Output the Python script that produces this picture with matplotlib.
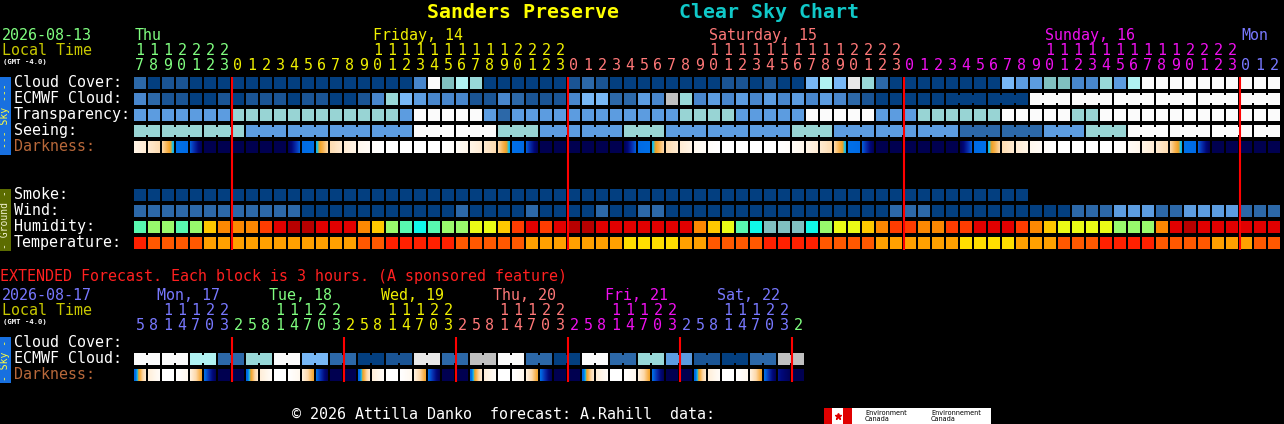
import numpy as np
import matplotlib
matplotlib.use("Agg")
import matplotlib.pyplot as plt
from matplotlib.colors import LinearSegmentedColormap

W, H = 1284, 424
MONO = "DejaVu Sans Mono"

# ---------------- data ----------------
title_site = "Sanders Preserve"
title_chart = "Clear Sky Chart"
main_date = "2026-08-13"
ext_date = "2026-08-17"
gmt_label = "(GMT -4.0)"

main_start_hour = 17
main_hours = [(main_start_hour + i) % 24 for i in range(82)]
main_days = ["Thu", "Friday, 14", "Saturday, 15", "Sunday, 16", "Mon"]
main_day_label_hour = [17, 10, 10, 10, 0]
main_day_colors = ["#80ff80", "#f0f000", "#ff7878", "#f010f0", "#7878ff"]

# cloud cover in percent (main chart, hourly)
cloud_cover = [20, 0, 10, 10, 0, 0, 0,
               0, 0, 0, 0, 0, 0, 0, 0, 0, 0, 0, 0, 0, 30, 100, 60, 80, 70,
               0, 0, 0, 0, 0, 0, 10, 20, 10, 0, 0, 0, 0, 0, 0, 0, 0, 10, 10,
               0, 10, 0, 0, 50, 80, 50, 95, 70, 20, 0, 0, 0, 0, 0, 0, 0, 0,
               50, 40, 40, 60, 60, 30, 30, 70, 40, 80,
               100, 100, 100, 100, 100, 100, 100, 100, 100, 100]
ecmwf_cloud = [30, 20, 10, 10, 0, 0, 10, 0, 10, 10, 10, 0, 10, 10, 0, 0, 10,
               30, 70, 50, 40,
               30, 30, 30, 10, 10, 30, 20, 10, 10, 10, 30, 50, 50, 20, 20, 40,
               30, 90, 70, 30, 40, 30, 40, 30, 40, 30, 40, 30, 40, 30,
               20, 10, 0, 0, 0, 0, 0, 0, 0, 0, 0, 0, 0,
               100, 100, 100, 100, 100, 100, 100, 100, 100, 100, 100, 100,
               100, 100, 100, 100, 100, 100]
ecmwf_3h_from = 58  # ECMWF becomes 3-hourly here

# transparency: 1 above avg, 2 average, 3 below avg, 5 too cloudy
transparency = [2, 2, 2, 2, 2, 2, 2,
                3, 3, 3, 3, 3, 3, 3, 3, 3, 3, 3, 3, 2, 5, 5, 5, 5, 5,
                2, 1, 2, 2, 2, 2, 2, 2, 2, 2, 2, 2, 2, 2, 3, 3, 3, 3,
                2, 2, 2, 2, 2, 5, 5, 5, 5, 5, 2, 2, 2, 3, 3, 3, 3, 3, 3,
                5, 5, 5, 5, 5, 3, 3, 5, 5, 5, 5, 5, 5, 5, 5, 5, 5, 5, 5, 5]
# seeing: 4 good, 3 average, 2 poor, 0 too cloudy
seeing = [2, 2, 2, 2, 2, 2, 2, 2,
          3, 3, 3, 3, 3, 3, 3, 3, 3, 3, 3, 3, 0, 0, 0, 0, 0, 0,
          2, 2, 2, 3, 3, 3, 3, 3, 3, 2, 2, 2, 3, 3, 3, 3, 3, 3, 3, 3, 3,
          2, 2, 2, 3, 3, 3, 3, 3, 3, 3, 3, 3, 4, 4, 4, 4, 4, 4,
          3, 3, 3, 2, 2, 2, 0, 0, 0, 0, 0, 0, 0, 0, 0, 0, 0]
smoke = [0] * 64
# wind: 0 = 0-5 mph, 1 = 6-11 mph, 2 = 12-16 mph
wind = [1, 1, 1, 1, 1, 1, 1, 1, 1, 1, 1, 1,
        0, 0, 0, 0, 0, 0, 0, 0, 0, 0, 0, 1, 0, 0, 0, 0, 1, 0, 0, 0, 0, 1,
        0, 0, 1, 1, 0, 0, 0, 0, 0, 0, 0, 0, 0, 0, 0, 0, 0, 0, 0, 0,
        1, 1, 1, 0, 0, 0, 0, 0, 0, 0, 0, 0, 0, 1, 1, 1, 2, 2, 2, 1, 1,
        2, 2, 2, 2, 1, 1, 1]
humidity = [55, 60, 60, 55, 60, 70, 75, 75, 75, 80, 85, 90, 90, 85, 85, 85,
            75, 70, 60, 55, 50,
            55, 60, 60, 65, 65, 70, 80, 85, 80, 85, 90, 90, 85, 85, 85, 85,
            85, 85, 85, 75, 70, 65, 55, 50, 45, 45, 45, 50, 60, 65,
            65, 70, 75, 80, 80, 75, 75, 80, 80, 85, 85, 85, 80, 75, 70, 65,
            65, 65, 65, 60, 60, 60, 75, 85, 90, 85, 85, 85, 85, 85, 85]
temperature = [86, 82, 82, 82, 82, 77, 77, 77, 77, 77, 77, 77, 77, 77, 77, 77,
               82, 82, 86, 86, 86,
               86, 86, 82, 82, 82, 82, 82, 77, 77, 77, 77, 77, 77, 77,
               73, 73, 73, 73, 77, 77, 82, 82, 82, 82, 86, 86, 86, 86, 82, 82,
               82, 82, 77, 77, 77, 77, 77, 77, 73, 73, 73, 73, 77, 77, 77,
               82, 82, 82, 86, 86, 86, 86, 82, 82, 82, 82, 77, 77, 77, 82, 82]
# darkness (0 daylight .. 1 full dark) at start and end of each hour block
dark_start = [0.08, 0.14, 0.24, 0.50, 0.58, 1, 1,
              1, 1, 1, 1, 0.97, 0.53, 0.46, 0.22, 0.13, 0.06, 0.02, 0, 0, 0, 0,
              0, 0.03, 0.08, 0.14, 0.24, 0.50, 0.58, 1, 1,
              1, 1, 1, 1, 0.97, 0.53, 0.46, 0.22, 0.13, 0.06, 0.02, 0, 0, 0, 0,
              0, 0.03, 0.08, 0.14, 0.24, 0.50, 0.58, 1, 1,
              1, 1, 1, 1, 0.97, 0.53, 0.46, 0.22, 0.13, 0.06, 0.02, 0, 0, 0, 0,
              0, 0.03, 0.08, 0.14, 0.24, 0.50, 0.58, 1, 1,
              1, 1, 1]
dark_end = [0.13, 0.22, 0.46, 0.53, 0.97, 1, 1,
            1, 1, 1, 1, 0.58, 0.50, 0.24, 0.14, 0.08, 0.03, 0, 0, 0, 0, 0,
            0.02, 0.07, 0.13, 0.22, 0.46, 0.53, 0.97, 1, 1,
            1, 1, 1, 1, 0.58, 0.50, 0.24, 0.14, 0.08, 0.03, 0, 0, 0, 0, 0,
            0.02, 0.07, 0.13, 0.22, 0.46, 0.53, 0.97, 1, 1,
            1, 1, 1, 1, 0.58, 0.50, 0.24, 0.14, 0.08, 0.03, 0, 0, 0, 0, 0,
            0.02, 0.07, 0.13, 0.22, 0.46, 0.53, 0.97, 1, 1,
            1, 1, 1]

# extended forecast (3-hour columns)
ext_start_hour = 5
ext_hours = [(ext_start_hour + 3 * i) % 24 for i in range(48)]
ext_days = ["Mon, 17", "Tue, 18", "Wed, 19", "Thu, 20", "Fri, 21", "Sat, 22"]
ext_day_colors = ["#7878ff", "#80ff80", "#f0f000", "#ff7878", "#f010f0",
                  "#7878ff", "#80ff80"]
ext_ecmwf = [100, 100, 80, 20, 70, 100, 50, 20, 0, 10, 95, 20,
             90, 100, 20, 0, 100, 20, 70, 40, 10, 0, 20, 90]
ext_dark_start = [0.56, 0.12, 0, 0, 0.10, 0.52, 1,
                  1, 0.56, 0.12, 0, 0, 0.10, 0.52, 1,
                  1, 0.56, 0.12, 0, 0, 0.10, 0.52, 1,
                  1, 0.56, 0.12, 0, 0, 0.10, 0.52, 1,
                  1, 0.56, 0.12, 0, 0, 0.10, 0.52, 1,
                  1, 0.56, 0.12, 0, 0, 0.10, 0.52, 0.80,
                  1]
ext_dark_end = [0.14, 0.03, 0, 0.06, 0.38, 0.97, 1,
                1, 0.14, 0.03, 0, 0.06, 0.38, 0.97, 1,
                1, 0.14, 0.03, 0, 0.06, 0.38, 0.97, 1,
                1, 0.14, 0.03, 0, 0.06, 0.38, 0.97, 1,
                1, 0.14, 0.03, 0, 0.06, 0.38, 0.97, 1,
                1, 0.14, 0.03, 0, 0.06, 0.38, 0.97, 0.97,
                1]

# ---------------- colours ----------------
CLOUD_COL = {0: "#033f80", 10: "#1a5494", 20: "#2c68a8", 30: "#4886cc",
             40: "#5c9ce0", 50: "#78b8f6", 60: "#80c0c0", 70: "#98d8d8",
             80: "#b0f2f2", 90: "#c0c0c0", 95: "#e8e8e8", 100: "#fbfbfb"}
TRANSP_COL = {1: "#2c68a8", 2: "#5c9ce0", 3: "#98d4d4", 5: "#fbfbfb"}
SEEING_COL = {4: "#2c68a8", 3: "#5c9ce0", 2: "#98d4d4", 0: "#fbfbfb"}
WIND_COL = {0: "#033f80", 1: "#2c68a8", 2: "#5c9ce0"}
HUM_COL = {45: "#80c0c0", 50: "#10f8e8", 55: "#58f8b0", 60: "#98fa6c",
           65: "#eafb16", 70: "#fec800", 75: "#fc8802", 80: "#fe3c01",
           85: "#e20000", 90: "#b80000"}
TEMP_COL = {73: "#ffde00", 77: "#ffa000", 82: "#ff5800", 86: "#ff2000"}
dark_cmap = LinearSegmentedColormap.from_list("dark", [
    (0.00, "#ffffff"), (0.06, "#fff8ee"), (0.14, "#ffead0"),
    (0.24, "#fdd8a8"), (0.34, "#f8b048"), (0.40, "#f0a020"),
    (0.44, "#10c8f0"), (0.50, "#0070e8"), (0.56, "#0066e0"),
    (0.70, "#0830b0"), (0.85, "#00087a"), (1.00, "#000050")])

# ---------------- layout ----------------
X0, PITCH, BW = 134, 14, 12
MAIN_TOP = [77, 93, 109, 125, 141]
GROUND_TOP = [189, 205, 221, 237]
EXT_TOP = [337, 353, 369]

fig = plt.figure(figsize=(W / 100, H / 100), dpi=100, facecolor="black")
ax = fig.add_axes([0, 0, 1, 1])
ax.set_facecolor("black")
ax.axis("off")


def txt(x, y, s, color="white", size=10.8, **kw):
    kw.setdefault("ha", "left")
    kw.setdefault("va", "baseline")
    ax.text(x, y, s, color=color, fontsize=size, family=MONO, **kw)


def row(values, top, palette, groups=None):
    xs, cols = [], []
    for i, v in enumerate(values):
        xs.append(X0 + PITCH * i)
        cols.append(palette[v])
    ax.bar(xs, BW, width=BW, bottom=top, align="edge", color=cols, linewidth=0)
    if groups is None:
        return
    for i in range(len(values) - 1):
        if groups[i] is not None and groups[i] == groups[i + 1]:
            ax.bar(X0 + PITCH * i + BW, 8, width=PITCH - BW, bottom=top + 2,
                   align="edge", color=palette[values[i]], linewidth=0)


def dark_row(starts, ends, top):
    for i, (s, e) in enumerate(zip(starts, ends)):
        x = X0 + PITCH * i
        ax.imshow(np.linspace(s, e, 24)[None, :], cmap=dark_cmap, vmin=0, vmax=1,
                  extent=(x, x + BW, top + BW, top), aspect="auto",
                  interpolation="bilinear")


# title
txt(427, 18, title_site, color="#ffff00", size=14.3, weight="bold")
txt(679, 18, title_chart, color="#10c8c8", size=14.3, weight="bold")

# main header
txt(2, 40, main_date, color="#80ff80")
txt(2, 55, "Local Time", color="#c8c800")
txt(3, 64, gmt_label, size=5.2, weight="bold")
for d, (name, hr) in enumerate(zip(main_days, main_day_label_hour)):
    idx = max(0, 24 * d - main_start_hour + hr)
    txt(X0 + PITCH * idx + 1, 40, name, color=main_day_colors[d])
for i, h in enumerate(main_hours):
    col = main_day_colors[(main_start_hour + i) // 24]
    cx = X0 + PITCH * i + BW / 2
    if h >= 10:
        txt(cx, 55, str(h // 10), color=col, ha="center")
    txt(cx, 70, str(h % 10), color=col, ha="center")

# sky rows
labels = ["Cloud Cover:", "ECMWF Cloud:", "Transparency:", "Seeing:", "Darkness:"]
for lab, top in zip(labels, MAIN_TOP):
    txt(14, top + 10, lab, color="#b8683a" if lab == "Darkness:" else "white")
row(cloud_cover, MAIN_TOP[0], CLOUD_COL)
t_abs = [main_start_hour + i for i in range(len(main_hours))]
ecmwf_groups = [t // 3 if i >= ecmwf_3h_from else None for i, t in enumerate(t_abs)]
row(ecmwf_cloud, MAIN_TOP[1], CLOUD_COL, ecmwf_groups)
row(transparency, MAIN_TOP[2], TRANSP_COL)
row(seeing, MAIN_TOP[3], SEEING_COL, [(t - 1) // 3 for t in t_abs])
dark_row(dark_start, dark_end, MAIN_TOP[4])

# ground rows
for lab, top in zip(["Smoke:", "Wind:", "Humidity:", "Temperature:"], GROUND_TOP):
    txt(14, top + 10, lab)
row(smoke, GROUND_TOP[0], {0: "#033f80"})
row(wind, GROUND_TOP[1], WIND_COL)
row(humidity, GROUND_TOP[2], HUM_COL)
row(temperature, GROUND_TOP[3], TEMP_COL)

# midnight lines
mid = [i for i, h in enumerate(main_hours) if h == 0]
ax.vlines([X0 + PITCH * i for i in mid], MAIN_TOP[0], GROUND_TOP[3] + 13,
          color="#ff0000", linewidth=1.5)

# side bars
ax.bar(0, 78, width=11, bottom=77, align="edge", color="#1870e0", linewidth=0)
ax.text(5.5, 116, "--- Sky ---", color="#ffff40", fontsize=7, family=MONO,
        rotation=90, ha="center", va="center")
ax.bar(0, 62, width=11, bottom=189, align="edge", color="#5c6c00", linewidth=0)
ax.text(5.5, 220, "- Ground -", color="#f0f0d0", fontsize=7, family=MONO,
        rotation=90, ha="center", va="center")

# extended forecast
txt(0, 281, "EXTENDED Forecast. Each block is 3 hours. (A sponsored feature)",
    color="#ff2020")
txt(2, 300, ext_date, color="#7878ff")
txt(2, 315, "Local Time", color="#c8c800")
txt(3, 324, gmt_label, size=5.2, weight="bold")
ext_day_of_col = [(i + 1) // 8 for i in range(len(ext_hours))]
for d, name in enumerate(ext_days):
    first = min(i for i in range(len(ext_hours))
                if ext_day_of_col[i] == d and ext_hours[i] >= 10)
    txt(X0 + PITCH * first - 5, 300, name, color=ext_day_colors[d])
for i, h in enumerate(ext_hours):
    col = ext_day_colors[ext_day_of_col[i]]
    cx = X0 + PITCH * i + BW / 2
    if h >= 10:
        txt(cx, 315, str(h // 10), color=col, ha="center")
    txt(cx, 330, str(h % 10), color=col, ha="center")

for lab, top in zip(["Cloud Cover:", "ECMWF Cloud:", "Darkness:"], EXT_TOP):
    txt(14, top + 10, lab, color="#b8683a" if lab == "Darkness:" else "white")
for k, v in enumerate(ext_ecmwf):
    x = X0 + 2 * PITCH * k
    c = CLOUD_COL[v]
    ax.bar([x, x + PITCH], BW, width=BW, bottom=EXT_TOP[1], align="edge",
           color=c, linewidth=0)
    ax.bar(x + BW, 8, width=PITCH - BW, bottom=EXT_TOP[1] + 2, align="edge",
           color=c, linewidth=0)
dark_row(ext_dark_start, ext_dark_end, EXT_TOP[2])
ext_mid = [i for i, h in enumerate(ext_hours) if h == 2]
ax.vlines([X0 + PITCH * i for i in ext_mid], EXT_TOP[0], EXT_TOP[2] + 13,
          color="#ff0000", linewidth=1.5)
ax.bar(0, 46, width=11, bottom=337, align="edge", color="#1870e0", linewidth=0)
ax.text(5.5, 360, "- Sky -", color="#ffff40", fontsize=7, family=MONO,
        rotation=90, ha="center", va="center")

# footer
txt(292, 419, "\u00a9 2026 Attilla Danko  forecast: A.Rahill  data:")
ax.bar([824, 832, 843, 852], 16, width=[8, 11, 9, 139], bottom=408, align="edge",
       color=["#e00000", "#ffffff", "#e00000", "#ffffff"], linewidth=0)
ax.plot([837.5], [416], marker="*", color="#e00000", markersize=5)
for x, s in [(865, "Environment\nCanada"), (931, "Environnement\nCanada")]:
    ax.text(x, 416, s, color="black", fontsize=5.2, family="DejaVu Sans",
            stretch="condensed", ha="left", va="center", linespacing=0.85)

ax.set_xlim(0, W)
ax.set_ylim(H, 0)
fig.savefig("out.png", dpi=100, facecolor="black")
